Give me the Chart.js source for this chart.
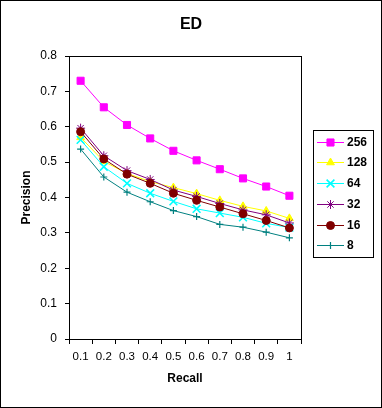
<!DOCTYPE html>
<html>
<head>
<meta charset="utf-8">
<script src="https://cdn.jsdelivr.net/npm/chart.js@4/dist/chart.umd.min.js"></script>
<style>
  body { margin: 0; background: #fff; }
  canvas { display: block; }
</style>
</head>
<body>
<canvas id="chart" width="382" height="408"></canvas>
<script>
// Data
const recall = ['0.1', '0.2', '0.3', '0.4', '0.5', '0.6', '0.7', '0.8', '0.9', '1'];
const yTicks = ['0', '0.1', '0.2', '0.3', '0.4', '0.5', '0.6', '0.7', '0.8'];
const seriesNames = ['256', '128', '64', '32', '16', '8'];
const p256 = [0.730, 0.655, 0.605, 0.567, 0.532, 0.505, 0.480, 0.454, 0.431, 0.405];
const p128 = [0.570, 0.502, 0.468, 0.445, 0.428, 0.411, 0.392, 0.375, 0.362, 0.341];
const p64  = [0.563, 0.487, 0.440, 0.412, 0.389, 0.368, 0.356, 0.344, 0.327, 0.315];
const p32  = [0.596, 0.518, 0.476, 0.451, 0.421, 0.403, 0.383, 0.365, 0.351, 0.328];
const p16  = [0.586, 0.509, 0.466, 0.440, 0.412, 0.392, 0.373, 0.354, 0.335, 0.314];
const p8   = [0.537, 0.458, 0.415, 0.388, 0.363, 0.346, 0.324, 0.316, 0.302, 0.286];

const values = [p256, p128, p64, p32, p16, p8];
const colors = ['#FF00FF', '#FFFF00', '#00FFFF', '#800080', '#800000', '#008080'];
const styles = ['rect', 'triangle', 'crossRot', 'star', 'circle', 'cross'];
const radii = [5, 4.5, 5.5, 4.5, 4, 3.5];
const markerWidths = [1, 1, 1.6, 1, 1, 1.2];

Chart.defaults.font.family = '"Liberation Sans", Arial, sans-serif';
Chart.defaults.color = '#000';

const datasets = seriesNames.map((name, i) => ({
  label: name,
  data: values[i],
  borderColor: colors[i],
  backgroundColor: colors[i],
  borderWidth: 1,
  pointStyle: styles[i],
  pointRadius: radii[i],
  pointHoverRadius: radii[i],
  pointBorderWidth: markerWidths[i],
  tension: 0,
  order: seriesNames.length - i   // later series drawn on top, like the original
}));

// title, frame around plot area, outer border and boxed legend
const decorations = {
  id: 'decorations',
  afterDraw(chart) {
    const ctx = chart.ctx;
    const a = chart.chartArea;
    ctx.save();
    ctx.strokeStyle = '#000';
    ctx.lineWidth = 1;
    ctx.strokeRect(Math.round(a.left) + 0.5, Math.round(a.top) + 0.5,
      Math.round(a.right - a.left), Math.round(a.bottom - a.top));
    ctx.strokeRect(0.5, 0.5, chart.width - 1, chart.height - 1);

    ctx.fillStyle = '#000';
    ctx.font = 'bold 16px "Liberation Sans", Arial, sans-serif';
    ctx.textAlign = 'center';
    ctx.textBaseline = 'middle';
    ctx.fillText('ED', 191, 25);

    // legend
    ctx.strokeRect(313.5, 130.5, 60, 127);
    chart.data.datasets.forEach((ds, i) => {
      const y = Math.round(141.7 + i * 20.7) + 0.5;
      ctx.strokeStyle = ds.borderColor;
      ctx.fillStyle = ds.backgroundColor;
      ctx.lineWidth = 1;
      ctx.beginPath();
      ctx.moveTo(317, y);
      ctx.lineTo(344, y);
      ctx.stroke();
      ctx.lineWidth = ds.pointBorderWidth;
      Chart.helpers.drawPoint(ctx, {
        pointStyle: ds.pointStyle, radius: ds.pointRadius, rotation: 0, borderWidth: ds.pointBorderWidth
      }, 330.5, y);
      ctx.fillStyle = '#000';
      ctx.font = 'bold 12px "Liberation Sans", Arial, sans-serif';
      ctx.textBaseline = 'middle';
      ctx.textAlign = 'left';
      ctx.fillText(ds.label, 347, y);
    });
    ctx.restore();
  }
};

new Chart(document.getElementById('chart'), {
  type: 'line',
  data: { labels: recall, datasets: datasets },
  options: {
    responsive: false,
    animation: false,
    layout: { padding: { left: 0, top: 56, right: 81, bottom: 0 } },
    plugins: {
      legend: { display: false },
      tooltip: { enabled: false },
      title: { display: false }
    },
    scales: {
      x: {
        offset: true,
        grid: { offset: true, drawOnChartArea: false, drawTicks: true, tickLength: 5, color: '#000' },
        border: { color: '#000', width: 1 },
        ticks: { font: { size: 11.5 }, color: '#000', padding: 6, autoSkip: false, maxRotation: 0 },
        title: {
          display: true, text: 'Recall', color: '#000',
          font: { size: 12, weight: 'bold' }, padding: { top: 0, bottom: 22 }
        },
        afterFit(scale) { scale.height = 69; }
      },
      y: {
        min: 0,
        max: 0.8,
        grid: { drawOnChartArea: false, drawTicks: true, tickLength: 4, color: '#000' },
        border: { color: '#000', width: 1 },
        ticks: {
          stepSize: 0.1, font: { size: 12 }, color: '#000', padding: 8,
          callback: (v, i) => yTicks[i]
        },
        title: {
          display: true, text: 'Precision', color: '#000',
          font: { size: 12, weight: 'bold' }, padding: { top: 19, bottom: 0 }
        },
        afterFit(scale) { scale.width = 69; }
      }
    }
  },
  plugins: [decorations]
});
</script>
</body>
</html>
